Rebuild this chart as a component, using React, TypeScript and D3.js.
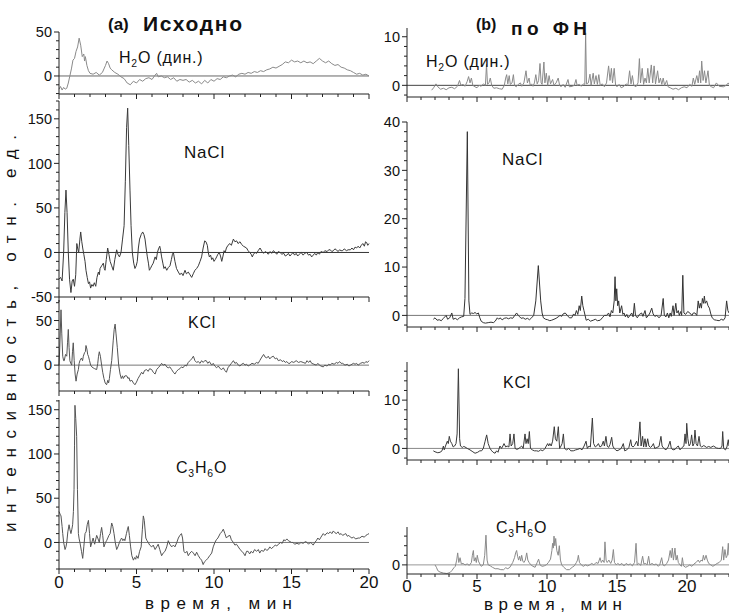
import React from "react";
import * as d3 from "d3";

// ---- data: [time, min ; intensity, rel. units] ----
const rawH2O: [number, number][] = [
  [0,-15],[0.1,-12],[0.2,-16],[0.3,-13],[0.4,-15],[0.5,-14],[0.6,-8],[0.7,0],[0.8,8],[0.9,18],[1.0,20],[1.1,28],[1.2,33],[1.3,43],[1.4,35],[1.5,22],[1.6,25],[1.65,17],[1.7,22],[1.8,12],[1.9,6],[2.0,3],[2.2,2],[2.4,4],[2.6,1],[2.8,4],[2.9,8],[3.0,12],[3.1,17],[3.2,14],[3.3,9],[3.4,7],[3.6,4],[3.8,2],[4.0,-1],[4.2,-3],[4.4,-8],[4.6,-10],[4.8,-6],[5.0,-8],[5.2,-4],[5.4,-6],[5.6,-3],[5.8,-2],[6.0,-4],[6.2,1],[6.3,3],[6.4,-1],[6.6,0],[6.8,-2],[7.0,-1],[7.2,-4],[7.4,-2],[7.6,-6],[7.8,-4],[8.0,-5],[8.2,-4],[8.4,-7],[8.6,-5],[8.8,-8],[9.0,-6],[9.2,-9],[9.4,-5],[9.6,-8],[9.8,-4],[10.0,-6],[10.2,-3],[10.4,-4],[10.6,-1],[10.8,-2],[11.0,0],[11.2,1],[11.4,-1],[11.6,2],[11.8,3],[12.0,2],[12.2,4],[12.4,3],[12.6,5],[12.8,4],[13.0,6],[13.2,5],[13.4,7],[13.6,8],[13.8,10],[14.0,9],[14.2,11],[14.4,13],[14.6,16],[14.8,15],[15.0,18],[15.2,16],[15.4,17],[15.6,15],[15.8,17],[16.0,15],[16.2,16],[16.4,14],[16.6,17],[16.8,20],[17.0,17],[17.2,15],[17.4,17],[17.6,14],[17.8,12],[18.0,13],[18.2,10],[18.4,9],[18.6,7],[18.8,6],[19.0,4],[19.2,2],[19.4,3],[19.6,1],[19.8,2],[20.0,0],
];

const rawNaCl: [number, number][] = [
  [0,-30],[0.1,-28],[0.2,-32],[0.3,0],[0.38,45],[0.45,70],[0.52,45],[0.6,0],[0.68,-30],[0.77,-45],[0.85,-32],[0.92,-30],[1.0,-38],[1.08,-25],[1.15,10],[1.2,5],[1.27,0],[1.35,15],[1.4,23],[1.47,12],[1.53,5],[1.6,-2],[1.68,-10],[1.74,-20],[1.82,-28],[1.9,-35],[1.97,-33],[2.04,-40],[2.12,-36],[2.2,-38],[2.28,-34],[2.37,-38],[2.45,-28],[2.54,-22],[2.6,-25],[2.65,-18],[2.75,-15],[2.86,-12],[2.92,-18],[2.97,-20],[3.05,-8],[3.14,5],[3.22,-2],[3.3,-10],[3.4,-15],[3.5,-20],[3.6,-8],[3.72,3],[3.8,-2],[3.9,-5],[4.0,0],[4.1,15],[4.2,30],[4.28,80],[4.36,140],[4.43,162],[4.5,120],[4.58,70],[4.65,30],[4.73,0],[4.82,-12],[4.9,-18],[4.98,-15],[5.05,-10],[5.12,5],[5.2,15],[5.3,20],[5.4,23],[5.48,20],[5.55,15],[5.62,5],[5.7,-5],[5.77,-12],[5.83,-20],[5.9,-18],[5.98,-15],[6.08,-12],[6.2,-5],[6.28,-8],[6.35,0],[6.42,4],[6.5,7],[6.56,2],[6.62,-5],[6.7,-12],[6.77,-18],[6.85,-16],[6.95,-20],[7.05,-17],[7.16,-15],[7.25,-8],[7.32,-2],[7.38,0],[7.43,-5],[7.48,-10],[7.58,-18],[7.7,-22],[7.8,-25],[7.9,-23],[8.0,-26],[8.13,-20],[8.22,-24],[8.34,-22],[8.45,-25],[8.56,-28],[8.66,-24],[8.77,-20],[8.88,-18],[8.99,-15],[9.1,-10],[9.2,-5],[9.3,5],[9.4,13],[9.48,12],[9.57,8],[9.63,0],[9.7,-5],[9.78,-3],[9.85,-8],[9.92,-6],[10.0,-10],[10.08,-8],[10.17,-5],[10.25,-2],[10.34,0],[10.42,-4],[10.5,-10],[10.58,-4],[10.65,2],[10.72,0],[10.8,5],[10.9,8],[11.03,10],[11.12,8],[11.25,15],[11.35,12],[11.46,13],[11.55,10],[11.68,12],[11.78,9],[11.9,7],[12.0,6],[12.1,5],[12.2,2],[12.3,0],[12.4,-2],[12.47,-5],[12.55,-2],[12.65,0],[12.75,-1],[12.85,2],[12.97,5],[13.1,1],[13.2,-1],[13.3,1],[13.4,0],[13.5,-2],[13.62,1],[13.72,-1],[13.83,2],[13.95,0],[14.05,-2],[14.15,1],[14.26,0],[14.38,-2],[14.5,-1],[14.6,-4],[14.7,-3],[14.8,-1],[14.9,-4],[15.0,-2],[15.1,0],[15.2,-3],[15.3,-1],[15.4,-4],[15.5,-2],[15.62,0],[15.75,-3],[15.85,-1],[15.98,0],[16.1,-3],[16.2,-2],[16.3,-5],[16.4,-3],[16.5,-1],[16.6,-3],[16.7,0],[16.8,-2],[16.9,1],[17.05,0],[17.15,2],[17.3,1],[17.4,3],[17.5,3],[17.6,1],[17.7,2],[17.8,4],[17.9,3],[18.0,1],[18.1,3],[18.2,2],[18.3,2],[18.4,4],[18.55,2],[18.65,3],[18.8,3],[18.9,5],[19.0,3],[19.1,6],[19.2,5],[19.3,7],[19.4,5],[19.5,8],[19.6,10],[19.7,7],[19.78,12],[19.85,11],[19.92,8],[20.0,10],
];

const rawKCl: [number, number][] = [
  [0,0],[0.05,20],[0.13,62],[0.18,35],[0.24,10],[0.3,5],[0.34,5],[0.42,12],[0.5,10],[0.55,25],[0.6,40],[0.65,20],[0.7,5],[0.76,2],[0.82,0],[0.87,15],[0.92,25],[0.98,5],[1.04,-10],[1.1,-18],[1.17,-10],[1.25,-5],[1.3,2],[1.35,5],[1.45,8],[1.52,5],[1.57,10],[1.65,14],[1.7,15],[1.74,22],[1.8,18],[1.85,12],[1.9,10],[1.97,5],[2.04,0],[2.12,-2],[2.2,-3],[2.3,-4],[2.43,-5],[2.5,2],[2.55,10],[2.6,15],[2.67,10],[2.75,0],[2.82,-8],[2.9,-15],[2.98,-20],[3.07,-22],[3.15,-17],[3.2,-20],[3.25,-15],[3.32,-5],[3.4,5],[3.5,28],[3.56,40],[3.62,46],[3.68,35],[3.76,20],[3.85,0],[3.94,-10],[4.02,-15],[4.1,-12],[4.15,-15],[4.25,-12],[4.37,-12],[4.45,-15],[4.52,-14],[4.58,-18],[4.7,-17],[4.8,-20],[4.9,-22],[5.0,-19],[5.1,-15],[5.2,-12],[5.33,-8],[5.42,-10],[5.52,-6],[5.65,-5],[5.75,-7],[5.85,-4],[5.98,-5],[6.08,-8],[6.2,-10],[6.3,-5],[6.4,-3],[6.5,-1],[6.62,2],[6.72,0],[6.84,1],[6.95,-2],[7.05,-3],[7.15,-2],[7.27,-5],[7.38,-8],[7.48,-10],[7.58,-7],[7.7,-5],[7.8,-4],[7.9,-2],[8.0,-3],[8.13,0],[8.22,-1],[8.34,3],[8.45,5],[8.56,7],[8.67,10],[8.77,5],[8.88,3],[8.98,4],[9.1,2],[9.2,5],[9.3,3],[9.4,5],[9.5,5],[9.6,2],[9.7,4],[9.85,0],[9.95,2],[10.05,-1],[10.17,-3],[10.28,-1],[10.4,-4],[10.5,-5],[10.6,-3],[10.7,-6],[10.8,-8],[10.9,-3],[11.03,0],[11.12,2],[11.25,5],[11.35,2],[11.45,3],[11.57,0],[11.68,-1],[11.78,1],[11.9,2],[12.0,0],[12.1,1],[12.2,-1],[12.3,0],[12.45,2],[12.6,1],[12.75,3],[12.85,2],[12.95,5],[13.05,8],[13.2,12],[13.3,9],[13.4,8],[13.5,10],[13.6,7],[13.7,9],[13.83,10],[13.95,7],[14.05,8],[14.15,5],[14.3,6],[14.4,4],[14.5,5],[14.6,3],[14.7,4],[14.8,2],[14.9,2],[15.0,4],[15.15,3],[15.3,5],[15.45,3],[15.6,4],[15.75,3],[15.9,2],[16.0,5],[16.1,3],[16.2,5],[16.3,2],[16.45,1],[16.6,0],[16.7,2],[16.8,0],[16.9,-1],[17.05,-2],[17.15,0],[17.3,-1],[17.4,1],[17.5,0],[17.6,2],[17.75,1],[17.9,3],[18.0,2],[18.1,4],[18.2,2],[18.3,2],[18.45,0],[18.6,1],[18.7,-1],[18.8,0],[18.9,1],[19.0,2],[19.1,1],[19.2,2],[19.3,0],[19.45,2],[19.6,3],[19.7,2],[19.8,4],[19.9,3],[20.0,5],
];

const rawC3H6O: [number, number][] = [
  [0,35],[0.07,32],[0.13,30],[0.2,18],[0.24,10],[0.3,0],[0.39,-8],[0.45,-5],[0.5,0],[0.57,12],[0.65,20],[0.7,15],[0.77,10],[0.83,15],[0.88,20],[0.93,35],[0.97,60],[1.0,110],[1.03,155],[1.08,140],[1.14,120],[1.19,60],[1.25,10],[1.3,4],[1.35,0],[1.45,-10],[1.53,-18],[1.6,-5],[1.68,10],[1.75,12],[1.82,20],[1.9,25],[1.97,10],[2.04,-5],[2.12,0],[2.2,5],[2.3,-2],[2.43,8],[2.5,5],[2.6,0],[2.68,10],[2.75,17],[2.82,8],[2.9,-5],[3.0,0],[3.07,2],[3.15,5],[3.22,8],[3.3,10],[3.4,22],[3.47,18],[3.55,10],[3.63,0],[3.72,-8],[3.8,-5],[3.9,0],[3.97,3],[4.04,5],[4.12,2],[4.2,4],[4.25,2],[4.35,10],[4.42,15],[4.47,18],[4.54,8],[4.62,-5],[4.7,-15],[4.8,-20],[4.88,-17],[4.95,-19],[5.0,-15],[5.1,-18],[5.2,-10],[5.3,-5],[5.38,15],[5.44,30],[5.5,25],[5.6,5],[5.68,2],[5.76,0],[5.85,-3],[5.98,-5],[6.08,-3],[6.2,-8],[6.3,-5],[6.4,-2],[6.5,-8],[6.62,-15],[6.72,-12],[6.84,-10],[6.95,-5],[7.05,2],[7.15,-2],[7.27,-5],[7.38,-3],[7.48,-5],[7.6,0],[7.7,5],[7.8,8],[7.9,10],[7.97,5],[8.06,-10],[8.15,-12],[8.25,-10],[8.34,-15],[8.45,-12],[8.56,-10],[8.67,-12],[8.78,-15],[8.88,-11],[8.99,-15],[9.1,-18],[9.2,-20],[9.3,-25],[9.38,-22],[9.5,-20],[9.6,-18],[9.72,-15],[9.85,-12],[9.95,-5],[10.06,0],[10.15,3],[10.25,5],[10.4,10],[10.5,12],[10.6,15],[10.7,10],[10.8,5],[10.9,7],[11.03,8],[11.12,3],[11.25,0],[11.35,-3],[11.45,-2],[11.57,-5],[11.68,-8],[11.8,-10],[11.9,-12],[12.0,-15],[12.1,-10],[12.2,-10],[12.3,-13],[12.4,-10],[12.5,-12],[12.62,-8],[12.75,-10],[12.86,-8],[12.95,-12],[13.05,-9],[13.2,-10],[13.3,-7],[13.4,-9],[13.5,-8],[13.6,-5],[13.7,-7],[13.83,-5],[13.95,-3],[14.05,-4],[14.15,-2],[14.3,0],[14.4,-1],[14.5,3],[14.6,2],[14.7,4],[14.8,2],[14.9,1],[15.0,0],[15.1,0],[15.2,-2],[15.35,-1],[15.5,-2],[15.6,0],[15.75,-1],[15.9,1],[16.0,0],[16.1,-2],[16.2,0],[16.3,-1],[16.4,-3],[16.5,0],[16.6,2],[16.7,5],[16.8,3],[16.9,6],[17.05,10],[17.15,8],[17.3,11],[17.4,10],[17.5,12],[17.6,10],[17.7,13],[17.8,11],[17.9,10],[18.0,12],[18.1,9],[18.2,10],[18.3,8],[18.4,9],[18.5,10],[18.6,7],[18.7,8],[18.8,6],[18.9,5],[19.0,6],[19.15,4],[19.3,5],[19.4,5],[19.55,7],[19.7,6],[19.8,8],[19.9,9],[20.0,10],
];

// after the FN processing (right column)
const fnH2O: [number, number][] = [
  [1.76,-1],[1.9,-0.5],[2.07,0.3],[2.2,-0.3],[2.4,-0.8],[2.6,-0.6],[2.8,-0.9],[3.0,-0.5],[3.2,-0.4],[3.4,-0.7],[3.6,-0.2],[3.75,1],[3.85,0],[4.0,0.2],[4.15,-0.2],[4.3,0.8],[4.4,1.8],[4.5,0.5],[4.6,1.5],[4.7,0],[4.85,-0.3],[5.0,-0.5],[5.15,0],[5.3,-0.2],[5.45,0.3],[5.6,0],[5.68,4.3],[5.75,0.2],[5.85,0.5],[5.95,1.5],[6.05,0],[6.2,-0.6],[6.4,-0.5],[6.6,-0.7],[6.8,-0.8],[6.95,0],[7.05,1.5],[7.12,2.2],[7.2,0.3],[7.3,2],[7.38,0.2],[7.5,0.5],[7.6,2.2],[7.68,0],[7.8,-0.3],[7.95,0.2],[8.1,0.5],[8.2,-0.2],[8.35,0.5],[8.5,3],[8.6,0.5],[8.72,1.5],[8.8,0],[8.9,0.3],[9.0,-0.2],[9.1,0.5],[9.2,2.2],[9.3,0.3],[9.4,1],[9.5,4.5],[9.58,0.5],[9.65,0.2],[9.78,4.8],[9.85,0.5],[9.95,2.5],[10.05,0],[10.15,2],[10.25,0.3],[10.4,1.2],[10.5,0],[10.65,0.5],[10.8,1.5],[10.9,0],[11.0,-0.3],[11.15,0.2],[11.3,-0.4],[11.5,1.2],[11.6,-0.3],[11.8,-0.2],[11.95,0],[12.07,1.2],[12.15,0],[12.3,0.2],[12.45,-0.2],[12.6,0.3],[12.7,0.2],[12.76,10.8],[12.82,0.3],[12.95,0.5],[13.07,2.3],[13.15,0],[13.3,2.5],[13.38,0.3],[13.5,2],[13.6,0.2],[13.7,2.2],[13.8,0],[13.95,0.3],[14.1,-0.3],[14.25,0.5],[14.4,4],[14.5,1],[14.6,3.5],[14.68,0.5],[14.8,3.5],[14.9,0],[15.0,-0.3],[15.15,0.2],[15.3,-0.5],[15.5,-0.2],[15.65,0.3],[15.78,0],[15.9,3],[16.0,0.3],[16.1,2],[16.2,0],[16.35,-0.3],[16.5,0.5],[16.6,5.5],[16.68,0.5],[16.8,3.5],[16.9,0.2],[17.0,1.5],[17.1,0.5],[17.2,3.5],[17.3,0.5],[17.45,4.2],[17.55,0.5],[17.65,4],[17.75,0.3],[17.9,3],[18.0,0.5],[18.1,1.5],[18.2,0.2],[18.3,1.5],[18.4,0],[18.55,1],[18.65,-0.3],[18.8,-0.5],[19.0,-0.8],[19.2,-0.6],[19.4,-0.9],[19.6,-0.5],[19.8,-0.3],[20.0,-0.5],[20.2,0.2],[20.35,-0.2],[20.45,1.5],[20.55,0.2],[20.7,2],[20.8,0.5],[20.9,3],[20.98,0.5],[21.05,5],[21.15,1],[21.25,3],[21.35,0.5],[21.5,3],[21.6,0],[21.75,-0.3],[21.9,-0.5],[22.1,0.5],[22.3,-0.2],[22.6,-0.3],[22.8,0],[22.95,0.5],[23,0.2],
];

const fnNaCl: [number, number][] = [
  [1.88,-0.8],[2.0,-0.5],[2.15,-1],[2.3,-0.9],[2.45,-1.1],[2.6,-0.6],[2.8,0],[2.9,-0.8],[3.05,-0.5],[3.2,0.5],[3.3,-0.8],[3.45,-0.6],[3.6,-0.9],[3.75,-0.5],[3.9,-0.3],[4.05,-0.2],[4.14,3.5],[4.31,38],[4.42,3],[4.5,0.2],[4.62,0.5],[4.75,0.4],[4.86,0.6],[4.98,0.3],[5.1,0.5],[5.2,-0.5],[5.3,-1.2],[5.45,-1.5],[5.6,-1.6],[5.8,-1.5],[6.0,-1.4],[6.17,-1.5],[6.3,-1.2],[6.45,-0.5],[6.55,-0.8],[6.64,-0.5],[6.8,-0.9],[6.95,-0.6],[7.1,-0.5],[7.25,-0.7],[7.4,-0.5],[7.55,-0.6],[7.7,0],[7.83,0.5],[7.95,0],[8.05,-0.3],[8.15,-0.6],[8.3,-0.5],[8.45,-0.8],[8.6,-0.6],[8.75,-0.9],[8.9,-0.5],[9.05,0],[9.2,3],[9.38,10.3],[9.55,3],[9.65,0.5],[9.74,-0.5],[9.9,-0.8],[10.05,-0.9],[10.2,-1.1],[10.33,-1],[10.5,-0.8],[10.65,-0.6],[10.8,-0.3],[10.93,0],[11.05,-0.2],[11.15,0.3],[11.3,0.5],[11.45,0],[11.6,-0.5],[11.76,-0.5],[11.9,0.3],[12.0,0],[12.1,1],[12.2,0.2],[12.3,2],[12.38,1],[12.48,4],[12.56,2],[12.64,1],[12.72,0],[12.8,-1],[12.95,-0.8],[13.1,-1.2],[13.3,-1],[13.45,-0.8],[13.6,-1.1],[13.8,-1],[13.95,-0.5],[14.1,0],[14.26,0],[14.4,0.5],[14.5,-0.3],[14.6,1],[14.7,0.5],[14.8,3],[14.86,8],[14.92,3],[14.98,5.5],[15.05,2],[15.12,3],[15.2,0.5],[15.33,2],[15.42,0.2],[15.5,0.5],[15.6,-0.3],[15.7,0.2],[15.8,-0.5],[15.93,0],[16.05,0.5],[16.15,-0.3],[16.24,2.5],[16.32,0],[16.45,-0.5],[16.6,0.2],[16.76,0.5],[16.85,-0.2],[17.0,1],[17.1,-0.5],[17.25,0],[17.35,0.5],[17.48,1.5],[17.58,0.3],[17.7,-0.2],[17.85,0],[18.0,-0.5],[18.15,0],[18.3,3.5],[18.38,0],[18.5,-0.3],[18.6,0.5],[18.7,-0.5],[18.8,0.5],[18.88,-0.2],[19.0,2],[19.08,0],[19.2,2.5],[19.28,0.5],[19.38,1],[19.45,0],[19.55,0.8],[19.62,0],[19.7,8.3],[19.78,0.5],[19.9,0.2],[20.05,0.8],[20.2,0.5],[20.35,0],[20.45,0.5],[20.57,0.5],[20.7,0],[20.8,3],[20.88,1.5],[20.95,2.5],[21.03,1.5],[21.1,3.5],[21.18,2.5],[21.24,4],[21.3,2.5],[21.4,3],[21.5,2],[21.6,1.5],[21.7,0.3],[21.8,-0.5],[21.95,-0.9],[22.1,-1],[22.3,-1.1],[22.45,-0.8],[22.6,-1],[22.72,-0.5],[22.83,3],[22.92,1],[23,0.5],
];

const fnKCl: [number, number][] = [
  [1.88,-0.5],[2.0,-0.7],[2.2,-0.9],[2.36,-0.8],[2.5,-0.5],[2.6,0.5],[2.66,-0.3],[2.75,0.5],[2.88,1.5],[2.95,1],[3.02,2.5],[3.1,1.5],[3.2,1],[3.3,0.3],[3.4,0.5],[3.5,1],[3.58,3],[3.67,16.5],[3.76,2],[3.82,0.5],[3.95,0.2],[4.05,0.4],[4.14,0.3],[4.3,0],[4.5,-0.3],[4.65,-0.6],[4.86,-1],[5.05,-0.8],[5.2,-0.5],[5.33,-0.5],[5.45,0],[5.58,1.5],[5.69,2.8],[5.8,1],[5.93,0],[6.05,-0.5],[6.15,-0.8],[6.29,-1],[6.4,-0.5],[6.5,-0.8],[6.64,0.5],[6.75,0],[6.85,0.5],[6.93,1],[7.05,0.3],[7.15,0.5],[7.28,0.3],[7.36,3],[7.44,0.5],[7.55,1],[7.64,3],[7.72,0],[7.85,-0.2],[8.0,0],[8.1,0.3],[8.19,0.5],[8.3,0],[8.43,3],[8.5,1],[8.58,2],[8.66,1],[8.74,3.5],[8.82,0],[8.95,-0.3],[9.1,-0.5],[9.26,-0.5],[9.4,-0.6],[9.55,-0.3],[9.7,-0.5],[9.86,0],[9.95,0.5],[10.05,1],[10.12,0.5],[10.2,1],[10.3,0.5],[10.4,1.5],[10.52,4.5],[10.6,2],[10.7,1.5],[10.81,4.5],[10.9,0],[11.0,0.5],[11.08,1],[11.17,3],[11.25,0],[11.4,-0.3],[11.55,0],[11.7,-0.5],[11.88,-0.5],[12.05,-0.3],[12.2,-0.2],[12.36,0],[12.5,-0.3],[12.65,0.5],[12.79,1.5],[12.88,0],[13.0,0.5],[13.1,0.3],[13.24,6.3],[13.33,1],[13.45,0.3],[13.55,0.5],[13.67,1],[13.78,0.3],[13.9,0.5],[14.02,1.5],[14.1,0.5],[14.21,2.5],[14.3,0.5],[14.4,0.2],[14.5,0.8],[14.62,2.3],[14.7,0.5],[14.8,0],[14.9,-0.3],[15.0,-0.5],[15.15,-0.3],[15.3,0],[15.45,1],[15.55,-0.5],[15.7,-0.3],[15.85,0.2],[15.98,1.8],[16.05,0.5],[16.15,0.3],[16.25,0.6],[16.4,1.5],[16.5,0.5],[16.64,5.5],[16.72,0.5],[16.83,2.5],[16.9,0.3],[17.0,2],[17.08,0.3],[17.19,2],[17.28,0.5],[17.4,0.2],[17.5,0.5],[17.6,1],[17.7,0],[17.85,0.2],[18.0,0.4],[18.14,2.5],[18.22,0.5],[18.35,0],[18.5,-0.3],[18.65,0.3],[18.79,1.5],[18.88,0],[19.0,-0.3],[19.15,-0.2],[19.25,0.2],[19.38,0.5],[19.5,-0.3],[19.65,0.2],[19.78,0.5],[19.86,3],[19.93,1],[19.98,5.2],[20.06,2],[20.15,0.5],[20.25,1],[20.33,2.8],[20.42,0.5],[20.5,1],[20.57,3.8],[20.65,1],[20.75,0.5],[20.86,2.5],[20.95,0.5],[21.05,0.3],[21.2,0.6],[21.4,0.2],[21.55,0.4],[21.7,0.2],[21.88,0.5],[22.0,0.3],[22.1,0.1],[22.24,0],[22.4,0],[22.5,0.5],[22.55,3.5],[22.62,0],[22.75,-0.3],[22.85,0.3],[22.95,1.8],[23,0.5],
];

const fnC3H6O: [number, number][] = [
  [2.0,0],[2.1,-0.5],[2.2,-1.2],[2.36,-1.5],[2.6,-1.7],[2.85,-1.8],[3.07,-1.6],[3.2,-1.2],[3.35,-0.6],[3.45,-0.3],[3.55,1],[3.62,2.5],[3.7,0.5],[3.79,1.5],[3.88,0.2],[4.0,0.3],[4.15,0],[4.3,0.2],[4.45,-0.1],[4.6,0.5],[4.67,2],[4.74,3],[4.8,0.8],[4.88,1.5],[4.95,0.5],[5.02,2],[5.1,0.8],[5.2,0.2],[5.3,-0.3],[5.45,0],[5.55,2],[5.64,6.2],[5.72,1],[5.8,0],[5.95,-0.2],[6.1,-0.5],[6.3,-0.8],[6.5,-0.8],[6.7,-1],[6.9,-1],[7.05,-0.6],[7.2,-0.8],[7.35,-0.5],[7.45,0],[7.55,0.5],[7.68,1.5],[7.76,2.5],[7.83,3],[7.9,1.8],[7.97,1],[8.05,1.8],[8.12,0.8],[8.19,2],[8.27,0.8],[8.35,0.5],[8.45,1],[8.55,2.5],[8.63,1],[8.72,0.5],[8.85,0],[9.0,-0.3],[9.15,-0.5],[9.3,0.5],[9.4,1.2],[9.5,0],[9.65,-0.3],[9.8,-0.2],[9.95,0],[10.1,0.5],[10.25,1.2],[10.35,3],[10.4,4.5],[10.45,3.5],[10.5,6],[10.56,4],[10.62,5.5],[10.7,3],[10.8,2],[10.88,4],[10.96,1],[11.05,0],[11.2,-0.5],[11.4,-1],[11.6,-1],[11.8,-0.5],[11.95,-0.2],[12.1,0.5],[12.18,1],[12.24,2],[12.32,0.5],[12.45,0],[12.6,-0.3],[12.75,0],[12.9,-0.2],[13.05,0],[13.2,0.3],[13.35,0],[13.5,0.5],[13.65,0.3],[13.79,1.5],[13.88,0.5],[13.98,1],[14.08,0.5],[14.14,4.8],[14.22,1],[14.3,0.5],[14.42,1],[14.55,0.3],[14.65,1],[14.74,3.2],[14.82,0.5],[14.95,0],[15.05,0.3],[15.2,0],[15.35,0.3],[15.5,-0.2],[15.65,0.3],[15.8,0],[15.95,0.2],[16.1,-0.2],[16.25,0.5],[16.36,4.5],[16.44,0],[16.55,0.3],[16.7,-0.1],[16.83,1.8],[16.92,0.2],[17.05,0.3],[17.15,0],[17.26,1.8],[17.35,0],[17.5,0.3],[17.65,0],[17.8,0.2],[17.95,-0.3],[18.05,0],[18.19,1.5],[18.28,0],[18.4,-0.2],[18.55,0.3],[18.68,1],[18.8,3],[18.88,1.5],[18.95,3.5],[19.03,1],[19.14,3.5],[19.22,1],[19.3,2],[19.38,0.5],[19.5,0],[19.6,-0.3],[19.67,1.5],[19.75,-0.2],[19.9,-0.5],[20.05,-0.3],[20.2,0],[20.35,-0.3],[20.5,0.2],[20.65,0.5],[20.8,1],[20.9,0.5],[21.0,1],[21.1,0.8],[21.17,2],[21.25,1],[21.36,2],[21.45,1],[21.55,0.3],[21.7,0],[21.85,-0.3],[22.0,0],[22.15,0.3],[22.3,0.5],[22.45,1],[22.55,3.8],[22.62,1],[22.71,3.2],[22.8,1.5],[22.88,2],[22.95,4.5],[23,2],
];

// axis extents
const xDomainA = [0, 20];
const xDomainB = [0, 23];
const xMajor = [0, 5, 10, 15, 20];

const FONT = "'Liberation Sans', Arial, Helvetica, sans-serif";

type Seg = { t: string; sub?: boolean };
const lblH2O: Seg[] = [{ t: "H" }, { t: "2", sub: true }, { t: "O (дин.)" }];
const lblNaCl: Seg[] = [{ t: "NaCl" }];
const lblKCl: Seg[] = [{ t: "KCl" }];
const lblC3H6O: Seg[] = [{ t: "C" }, { t: "3", sub: true }, { t: "H" }, { t: "6", sub: true }, { t: "O" }];

type Panel = {
  data: [number, number][];
  yDomain: [number, number];
  top: number;
  bottom: number;
  major: number;
  minor: number;
  label: Seg[];
  lx: number;
  ly: number;
  color: string;
  zero: string;
  size: number;
};

const panelsA: Panel[] = [
  { data: rawH2O, yDomain: [-20.5, 50], top: 32, bottom: 94, major: 50, minor: 10, label: lblH2O, lx: 119, ly: 63, color: "#8a8a8a", zero: "#666", size: 16 },
  { data: rawNaCl, yDomain: [-50, 170], top: 101, bottom: 297, major: 50, minor: 10, label: lblNaCl, lx: 184, ly: 158, color: "#3a3a3a", zero: "#333", size: 17 },
  { data: rawKCl, yDomain: [-29, 73], top: 300, bottom: 391, major: 50, minor: 10, label: lblKCl, lx: 188, ly: 328, color: "#555", zero: "#777", size: 16 },
  { data: rawC3H6O, yDomain: [-30, 161], top: 400, bottom: 569, major: 50, minor: 10, label: lblC3H6O, lx: 176, ly: 473, color: "#555", zero: "#777", size: 16 },
];

const panelsB: Panel[] = [
  { data: fnH2O, yDomain: [-2.4, 11.8], top: 28, bottom: 97, major: 10, minor: 2, label: lblH2O, lx: 426, ly: 67, color: "#8a8a8a", zero: "#444", size: 16 },
  { data: fnNaCl, yDomain: [-2.4, 40], top: 122, bottom: 327, major: 10, minor: 2, label: lblNaCl, lx: 502, ly: 165, color: "#333", zero: "#777", size: 17 },
  { data: fnKCl, yDomain: [-2.4, 17.9], top: 362, bottom: 460, major: 10, minor: 2, label: lblKCl, lx: 503, ly: 388, color: "#3a3a3a", zero: "#888", size: 16 },
  { data: fnC3H6O, yDomain: [-1.9, 7.9], top: 527, bottom: 574, major: 10, minor: 2, label: lblC3H6O, lx: 496, ly: 533, color: "#8a8a8a", zero: "#999", size: 16 },
];

function Label({ segs, x, y, size }: { segs: Seg[]; x: number; y: number; size: number }) {
  let shifted = false;
  return (
    <text x={x} y={y} fontSize={size} fontFamily={FONT} fill="#111" letterSpacing={0.8}>
      {segs.map((s, i) => {
        let dy = 0;
        if (s.sub && !shifted) { dy = 4; shifted = true; }
        else if (!s.sub && shifted) { dy = -4; shifted = false; }
        return (
          <tspan key={i} dy={dy} fontSize={s.sub ? size * 0.65 : size}>
            {s.t}
          </tspan>
        );
      })}
    </text>
  );
}

function Column({ panels, xDomain, x0, x1, tickBase }: { panels: Panel[]; xDomain: number[]; x0: number; x1: number; tickBase: number }) {
  const x = d3.scaleLinear().domain(xDomain).range([x0, x1]);
  const xMinor = d3.range(xDomain[0], xDomain[1] + 0.001, 1);
  return (
    <g>
      {panels.map((p, pi) => {
        const y = d3.scaleLinear().domain(p.yDomain).range([p.bottom, p.top]);
        const line = d3.line<[number, number]>().x((d) => x(d[0])).y((d) => y(d[1]));
        const yt = d3.range(Math.ceil(p.yDomain[0] / p.minor) * p.minor, p.yDomain[1] + 1e-6, p.minor);
        const last = pi === panels.length - 1;
        return (
          <g key={pi}>
            <line x1={x0} x2={x1} y1={y(0)} y2={y(0)} stroke={p.zero} strokeWidth={1} />
            <path d={line(p.data) ?? ""} fill="none" stroke={p.color} strokeWidth={1} strokeLinejoin="round" />
            <line x1={x0} x2={x0} y1={p.top} y2={p.bottom} stroke="#222" />
            <line x1={x0} x2={x1} y1={p.bottom} y2={p.bottom} stroke="#222" />
            {yt.map((v) => {
              const maj = Math.abs(v % p.major) < 1e-6;
              return (
                <g key={v}>
                  <line x1={x0 - (maj ? 5 : 3)} x2={x0} y1={y(v)} y2={y(v)} stroke="#222" />
                  {maj && (
                    <text x={x0 - 7} y={y(v)} dy="0.36em" textAnchor="end" fontSize={14.5} fontFamily={FONT} fill="#111">
                      {v}
                    </text>
                  )}
                </g>
              );
            })}
            {xMinor.map((v) => {
              const maj = xMajor.includes(v);
              return <line key={v} x1={x(v)} x2={x(v)} y1={p.bottom} y2={p.bottom + (maj ? 5 : 3)} stroke="#222" />;
            })}
            {last &&
              xMajor.map((v) => (
                <text key={v} x={x(v)} y={tickBase} textAnchor="middle" fontSize={17} fontFamily={FONT} fill="#111">
                  {v}
                </text>
              ))}
            <Label segs={p.label} x={p.lx} y={p.ly} size={p.size} />
          </g>
        );
      })}
    </g>
  );
}

export default function App() {
  return (
    <svg width={729} height={615} style={{ position: "absolute", left: 0, top: 0, background: "#fff" }}>
      <rect width={729} height={615} fill="#fff" />
      <Column panels={panelsA} xDomain={xDomainA} x0={59} x1={369} tickBase={588} />
      <Column panels={panelsB} xDomain={xDomainB} x0={407} x1={729} tickBase={592} />

      {/* titles */}
      <text x={108} y={30} fontSize={17} fontWeight="bold" fontFamily={FONT} fill="#111">(a)</text>
      <text x={143} y={31} fontSize={21} fontWeight="bold" fontFamily={FONT} fill="#111" textLength={99} lengthAdjust="spacing">Исходно</text>
      <text x={476} y={30} fontSize={16} fontWeight="bold" fontFamily={FONT} fill="#111">(b)</text>
      <text x={511} y={35} fontSize={19} fontWeight="bold" fontFamily={FONT} fill="#111" textLength={76} lengthAdjust="spacing">по ФН</text>

      {/* axis titles */}
      <text x={145} y={609} fontSize={17} fontFamily={FONT} fill="#111" textLength={147} lengthAdjust="spacing">время, мин</text>
      <text x={484} y={610} fontSize={17} fontFamily={FONT} fill="#111" textLength={138} lengthAdjust="spacing">время, мин</text>
      <text transform="translate(16,532) rotate(-90)" fontSize={17} fontFamily={FONT} fill="#111" textLength={397} lengthAdjust="spacing">интенсивность, отн. ед.</text>
    </svg>
  );
}
